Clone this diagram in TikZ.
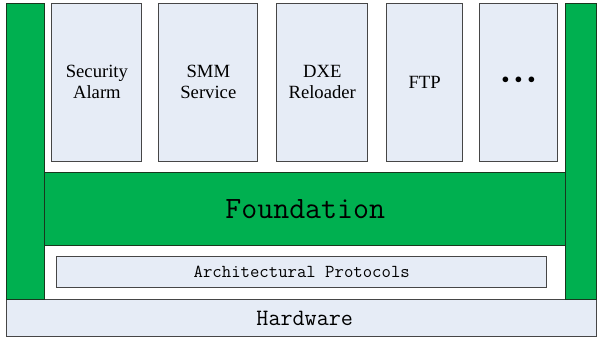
\documentclass[tikz,border=0pt]{standalone}
\usepackage{fontspec}
\newfontfamily\labelfont{Liberation Serif}

\tikzset{every picture/.style={line width=0.75pt}}
\tikzset{
  layerbox/.style={draw={rgb, 255:red, 70; green, 70; blue, 70 }, fill={rgb, 255:red, 230; green, 236; blue, 246 }, fill opacity=1},
  greenbox/.style={draw={rgb, 255:red, 25; green, 55; blue, 30 }, fill={rgb, 255:red, 0; green, 176; blue, 80 }, fill opacity=1},
  applabel/.style={align=center, font=\labelfont\fontsize{14}{16}\selectfont}
}

\begin{document}
\begin{tikzpicture}[x=0.75pt,y=0.75pt,yscale=-1,xscale=1]
	\path (0,0) rectangle (597,339); %set diagram size

	%Shape: Rectangle [id:hardware]
	\draw  [layerbox] (7,300) -- (597,300) -- (597,337) -- (7,337) -- cycle ;
	%Shape: Rectangle [id:leftbar]
	\draw  [greenbox] (7,4) -- (45,4) -- (45,300) -- (7,300) -- cycle ;
	%Shape: Rectangle [id:rightbar]
	\draw  [greenbox] (566,4) -- (597,4) -- (597,300) -- (566,300) -- cycle ;
	%Shape: Rectangle [id:foundation]
	\draw  [greenbox] (45,173) -- (566,173) -- (566,246) -- (45,246) -- cycle ;
	%Shape: Rectangle [id:archprot]
	\draw  [layerbox] (57,257) -- (547,257) -- (547,288) -- (57,288) -- cycle ;
	%Shape: Rectangle [id:secalarm]
	\draw  [layerbox] (52,4) -- (142,4) -- (142,162) -- (52,162) -- cycle ;
	%Shape: Rectangle [id:smm]
	\draw  [layerbox] (159,4) -- (258,4) -- (258,162) -- (159,162) -- cycle ;
	%Shape: Rectangle [id:dxe]
	\draw  [layerbox] (277,4) -- (368,4) -- (368,162) -- (277,162) -- cycle ;
	%Shape: Rectangle [id:ftp]
	\draw  [layerbox] (387,4) -- (463,4) -- (463,162) -- (387,162) -- cycle ;
	%Shape: Rectangle [id:more]
	\draw  [layerbox] (480,4) -- (558,4) -- (558,162) -- (480,162) -- cycle ;

	% Text Node
	\draw (97,82) node (secalarmtxt) [applabel]  {Security\\Alarm};
	% Text Node
	\draw (208.5,82) node (smmtxt) [applabel]  {SMM\\Service};
	% Text Node
	\draw (322.5,82) node (dxetxt) [applabel]  {DXE\\Reloader};
	% Text Node
	\draw (425,82) node (ftptxt) [applabel]  {FTP};
	% Text Node
	\draw (519,80) node (moretxt) [font=\fontsize{11}{13}\selectfont]  {$\bullet\,\bullet\,\bullet$};
	% Text Node
	\draw (305.5,209.5) node (foundtxt) [font=\ttfamily\fontsize{23.3}{26}\selectfont]  {Foundation};
	% Text Node
	\draw (302,272.5) node (archtxt) [font=\ttfamily\fontsize{13.7}{16}\selectfont]  {Architectural Protocols};
	% Text Node
	\draw (305,318.5) node (hwtxt) [font=\ttfamily\fontsize{17.6}{20}\selectfont]  {Hardware};

\end{tikzpicture}
\end{document}
